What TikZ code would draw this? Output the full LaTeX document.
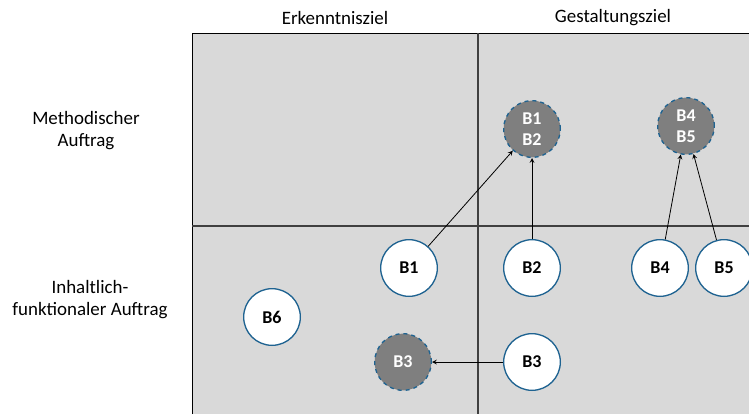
\documentclass[tikz,border=0pt]{standalone}
\usepackage{fontspec}
\setmainfont{Carlito}
\definecolor{feld}{HTML}{D9D9D9}
\definecolor{rand}{HTML}{1F6391}
\definecolor{kreisgrau}{HTML}{7F7F7F}
\definecolor{teiler}{HTML}{404040}
\begin{document}
\begin{tikzpicture}[x=0.75pt,y=-0.75pt,>=stealth,
ziel/.style={circle,minimum size=42.5pt,inner sep=0pt,draw=rand,line width=1pt,fill=white,font={\bfseries\fontsize{13.5}{16}\selectfont},align=center},
ergebnis/.style={ziel,dashed,fill=kreisgrau,text=white},
beschriftung/.style={font={\fontsize{14.2}{16.5}\selectfont},align=center}
]
\useasboundingbox (0,0) rectangle (749,414);
\fill[feld] (192,33) rectangle (749,414);
\draw[black, semithick] (192,414)--(192,33)--(749,33);
\draw[teiler, line width=1.2pt] (478,33)--(478,414);
\draw[teiler, line width=1.2pt] (192,226)--(749,226);

\node[beschriftung](erkenntnis) at (335,18){Erkenntnisziel};
\node[beschriftung](gestaltung) at (613,18){Gestaltungsziel};
\node[beschriftung](methodisch) at (86,131){Methodischer\\Auftrag};
\node[beschriftung](inhaltlich) at (90,300){Inhaltlich-\\funktionaler Auftrag};

\node[ergebnis](b1b2) at (532,129){B1\\B2};
\node[ergebnis](b4b5) at (686,126){B4\\B5};
\node[ergebnis](b3e) at (403,362){B3};

\node[ziel](b1) at (409,268){B1};
\node[ziel](b2) at (532,268){B2};
\node[ziel](b4) at (660,268){B4};
\node[ziel](b5) at (724,268){B5};
\node[ziel](b6) at (272,317){B6};
\node[ziel](b3) at (532,362){B3};

\begin{scope}[->, semithick]
\draw (b1)--(b1b2);
\draw (b2)--(b1b2);
\draw (b4)--(b4b5);
\draw (b5)--(b4b5);
\draw (b3)--(b3e);
\end{scope}
\end{tikzpicture}
\end{document}
